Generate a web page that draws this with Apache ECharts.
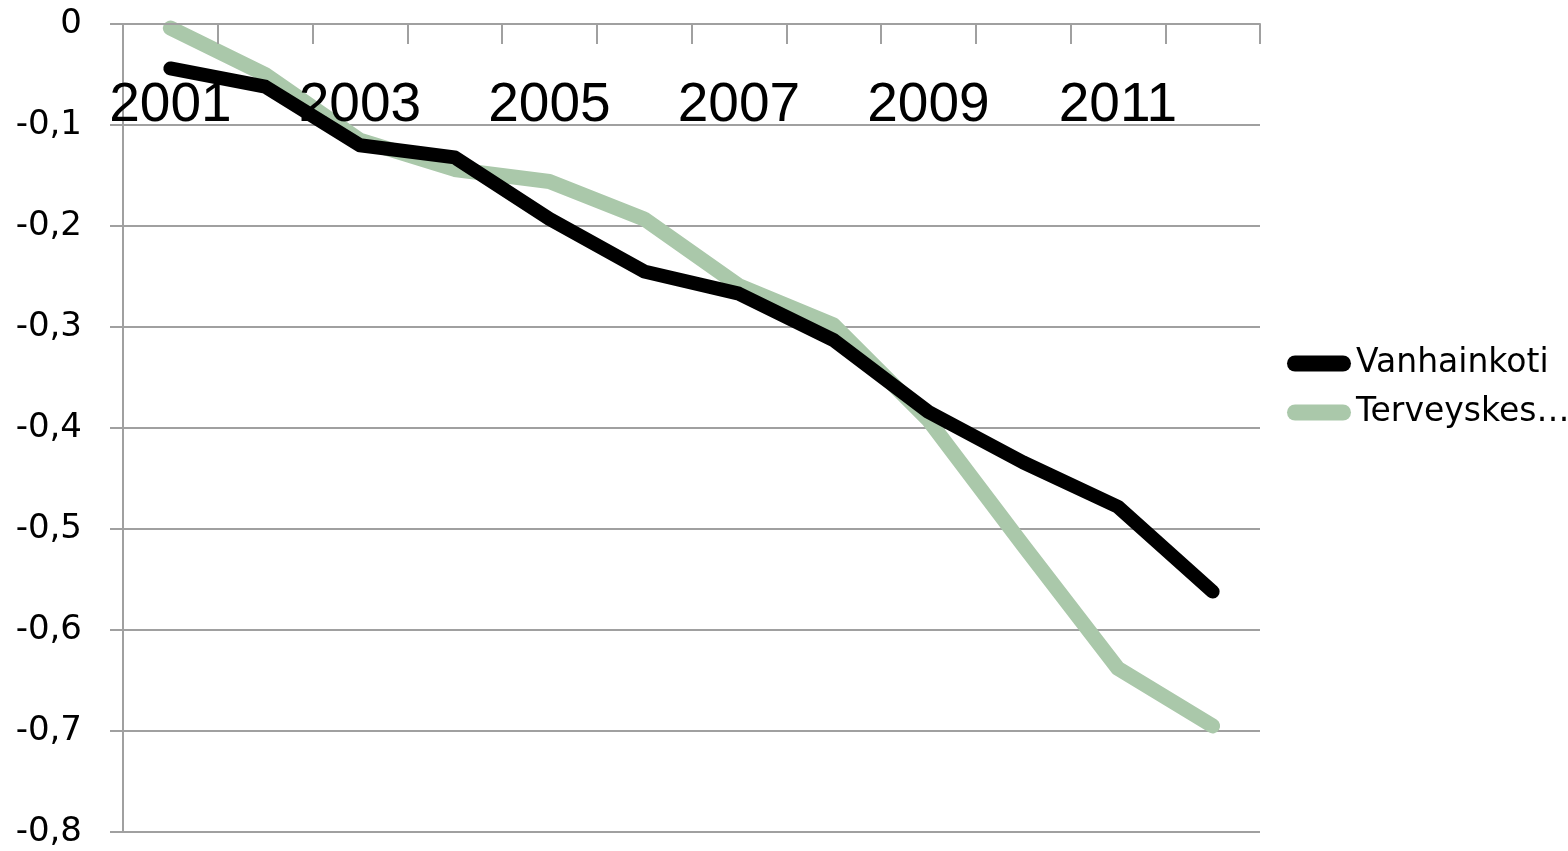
<!DOCTYPE html>
<html>
<head>
<meta charset="utf-8">
<script src="https://cdn.jsdelivr.net/npm/echarts@6/dist/echarts.min.js"></script>
<style>
html,body{margin:0;padding:0;background:#fff;}
#chart{width:1568px;height:851px;}
</style>
</head>
<body>
<div id="chart"></div>
<script>
const years = ['2001','2002','2003','2004','2005','2006','2007','2008','2009','2010','2011','2012'];
const vanhainkoti = [-0.044, -0.062, -0.12, -0.132, -0.193, -0.245, -0.267, -0.313, -0.384, -0.434, -0.478, -0.562];
const terveyskeskus = [-0.004, -0.05, -0.115, -0.144, -0.156, -0.193, -0.259, -0.298, -0.392, -0.516, -0.638, -0.695];
const seriesNames = ['Vanhainkoti', 'Terveyskes…'];
const yMin = -0.8, yMax = 0, yStep = 0.1;

const gridColor = '#a0a0a0';
const chart = echarts.init(document.getElementById('chart'));
const legendIcon = 'path://M8,0 L56,0 A8,8 0 0 1 56,16 L8,16 A8,8 0 0 1 8,0 Z';

chart.setOption({
  animation: false,
  backgroundColor: '#ffffff',
  grid: { left: 123, right: 308, top: 24, bottom: 19, containLabel: false },
  legend: {
    orient: 'vertical',
    left: 1282,
    top: 342,
    itemWidth: 64,
    itemHeight: 16,
    itemGap: 16,
    data: seriesNames.map(n => ({ name: n, icon: legendIcon })),
    textStyle: { fontFamily: 'DejaVu Sans', fontSize: 33, color: '#000' }
  },
  xAxis: {
    type: 'category',
    position: 'top',
    data: years,
    boundaryGap: true,
    z: 10,
    axisLine: { show: true, onZero: false, lineStyle: { color: gridColor, width: 2 } },
    axisTick: { show: true, inside: true, length: 20, interval: 0, lineStyle: { color: gridColor, width: 2 } },
    axisLabel: {
      inside: true, interval: 1, margin: 54,
      fontFamily: 'Liberation Sans', fontSize: 55, color: '#000'
    },
    splitLine: { show: false }
  },
  yAxis: {
    type: 'value',
    min: yMin, max: yMax, interval: yStep,
    axisLine: { show: true, lineStyle: { color: gridColor, width: 2 } },
    axisTick: { show: true, length: 13, lineStyle: { color: gridColor, width: 2 } },
    axisLabel: {
      margin: 41,
      fontFamily: 'DejaVu Sans', fontSize: 34, color: '#000',
      formatter: v => { const r = Math.round(v * 10) / 10; return r === 0 ? '0' : String(r).replace('.', ','); }
    },
    splitLine: { show: true, lineStyle: { color: gridColor, width: 2 } }
  },
  series: [
    {
      name: seriesNames[0], type: 'line', data: vanhainkoti,
      showSymbol: false, symbol: 'none', z: 3,
      lineStyle: { color: '#000000', width: 14, cap: 'round', join: 'round' },
      itemStyle: { color: '#000000' }
    },
    {
      name: seriesNames[1], type: 'line', data: terveyskeskus,
      showSymbol: false, symbol: 'none', z: 2,
      lineStyle: { color: '#aac8aa', width: 15, cap: 'round', join: 'round' },
      itemStyle: { color: '#aac8aa' }
    }
  ]
});
</script>
</body>
</html>
